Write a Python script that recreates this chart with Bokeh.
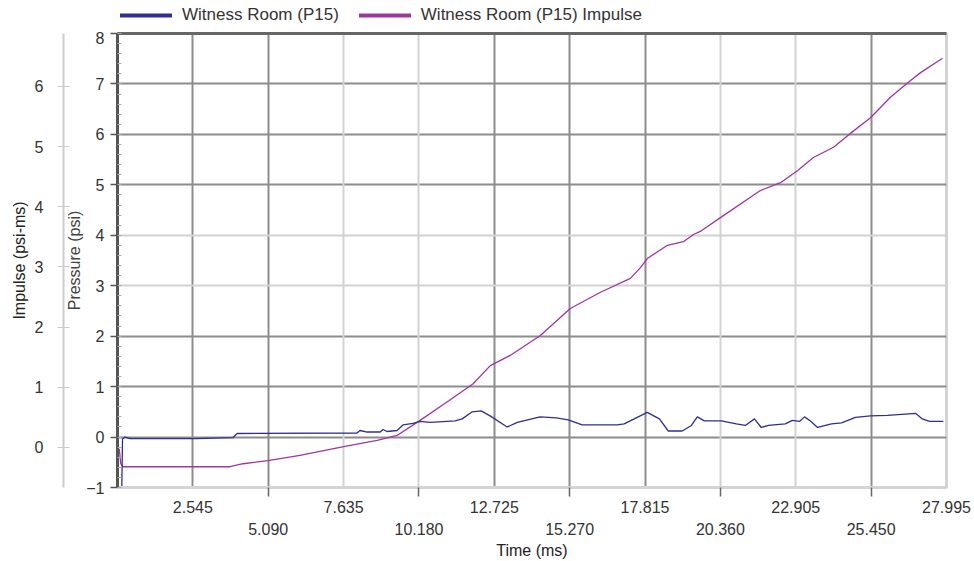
from bokeh.plotting import figure
from bokeh.layouts import column
from bokeh.models import (Range1d, LinearAxis, FixedTicker, SingleIntervalTicker,
                          NumeralTickFormatter, CustomJSTickFormatter, Legend,
                          LegendItem, Grid)
from bokeh.embed import file_html
from bokeh.resources import INLINE

FONT = "Liberation Sans"
BLUE = "#2E2E96"
PURPLE = "#9E36A0"

# ---- data (time in ms) ----
series_names = ["Witness Room (P15)", "Witness Room (P15) Impulse"]

time_pressure = [0.14, 0.17, 0.25, 0.42, 2.68, 3.90, 4.04, 8.09, 8.19, 8.43,
                 8.87, 8.97, 9.10, 9.44, 9.64, 9.98, 10.22, 10.56, 11.40, 11.64,
                 11.98, 12.28, 12.58, 13.16, 13.50, 14.27, 14.82, 15.22, 15.69, 16.88,
                 17.11, 17.45, 17.89, 18.30, 18.60, 19.07, 19.38, 19.58, 19.82, 20.39,
                 20.90, 21.20, 21.51, 21.74, 21.98, 22.55, 22.79, 23.03, 23.20, 23.40,
                 23.64, 24.11, 24.45, 24.92, 25.43, 26.00, 26.95, 27.18, 27.42, 27.89]
pressure_psi = [-1.17, -0.04, 0.00, -0.03, -0.03, -0.01, 0.07, 0.08, 0.13, 0.10,
                0.10, 0.15, 0.11, 0.13, 0.24, 0.27, 0.31, 0.29, 0.32, 0.36,
                0.50, 0.52, 0.42, 0.20, 0.29, 0.40, 0.38, 0.34, 0.24, 0.24,
                0.26, 0.36, 0.49, 0.36, 0.12, 0.12, 0.23, 0.40, 0.32, 0.32,
                0.26, 0.23, 0.36, 0.19, 0.23, 0.26, 0.33, 0.31, 0.40, 0.32,
                0.19, 0.26, 0.28, 0.39, 0.42, 0.43, 0.47, 0.36, 0.31, 0.31]

time_impulse = [0.00, 0.06, 0.11, 0.18, 3.80, 4.24, 5.08, 6.16, 7.68, 8.77,
                9.44, 10.22, 11.20, 12.01, 12.59, 13.26, 14.28, 15.29, 16.31, 17.32,
                17.66, 17.89, 18.57, 19.11, 19.45, 19.68, 20.36, 21.71, 22.39, 22.96,
                23.50, 24.18, 24.75, 25.43, 26.10, 26.78, 27.12, 27.86]
impulse_psi_ms = [-0.02, -0.03, -0.27, -0.32, -0.32, -0.27, -0.22, -0.13, 0.02, 0.12,
                  0.20, 0.45, 0.78, 1.06, 1.36, 1.53, 1.86, 2.31, 2.58, 2.81,
                  2.99, 3.14, 3.36, 3.42, 3.54, 3.59, 3.82, 4.27, 4.40, 4.60,
                  4.82, 4.99, 5.22, 5.48, 5.82, 6.10, 6.23, 6.47]

x_ticks_row1 = [2.545, 7.635, 12.725, 17.815, 22.905, 27.995]
x_ticks_row2 = [5.090, 10.180, 15.270, 20.360, 25.450]
x_grid_dark = [2.545, 5.090, 12.725, 15.270, 17.815, 25.450]
x_grid_light = [7.635, 10.180, 20.360, 22.905]
y_grid_dark = [0, 1, 2, 5, 6, 7]
y_grid_light = [3, 4]

TXT = "#333333"

# ---------------- legend strip (own small figure above the chart) ----------------
leg = figure(width=974, height=31, output_backend="svg", toolbar_location=None,
             x_axis_type=None, y_axis_type=None,
             x_range=Range1d(0, 27.995), y_range=Range1d(20, 21),
             min_border=0)
leg.outline_line_color = None
leg.background_fill_color = "white"
leg.border_fill_color = "white"
sw1 = leg.line(time_pressure, pressure_psi, line_color=BLUE, line_width=4,
               line_cap="round")
sw2 = leg.line(time_impulse, impulse_psi_ms, line_color=PURPLE, line_width=4,
               line_cap="round")
legend = Legend(items=[LegendItem(label=series_names[0], renderers=[sw1]),
                       LegendItem(label=series_names[1], renderers=[sw2])],
                orientation="horizontal", location=(3, 6),
                glyph_width=52, glyph_height=16, label_height=16,
                label_standoff=10, spacing=20, padding=0, margin=0,
                background_fill_alpha=0, border_line_alpha=0,
                label_text_font=FONT, label_text_font_size="17px",
                label_text_color=TXT)
leg.add_layout(legend)

# ---------------- main chart ----------------
p = figure(width=974, height=530, output_backend="svg", toolbar_location=None,
           x_range=Range1d(0, 27.995), y_range=Range1d(-1, 8),
           min_border_left=117, min_border_right=28, min_border_top=2,
           min_border_bottom=74)
p.extra_y_ranges = {"imp": Range1d(-0.665, 6.88)}
p.background_fill_color = "white"
p.border_fill_color = "white"
p.outline_line_color = "#d4d4d4"
p.outline_line_width = 3

# grids
DARK_GRID = "#8c8c8c"
LIGHT_GRID = "#d2d2d2"
p.xgrid.ticker = FixedTicker(ticks=x_grid_dark)
p.xgrid.grid_line_color = DARK_GRID
p.xgrid.grid_line_width = 2
p.ygrid.ticker = FixedTicker(ticks=y_grid_dark)
p.ygrid.grid_line_color = DARK_GRID
p.ygrid.grid_line_width = 2
p.add_layout(Grid(dimension=0, ticker=FixedTicker(ticks=x_grid_light),
                  grid_line_color=LIGHT_GRID, grid_line_width=2))
p.add_layout(Grid(dimension=1, ticker=FixedTicker(ticks=y_grid_light),
                  grid_line_color=LIGHT_GRID, grid_line_width=2))

# data lines
p.line(time_impulse, impulse_psi_ms, y_range_name="imp",
       line_color=PURPLE, line_width=1.3)
p.line(time_pressure, pressure_psi, line_color=BLUE, line_width=1.3)


def style_text(ax):
    ax.major_label_text_font = FONT
    ax.major_label_text_font_size = "16px"
    ax.major_label_text_color = TXT
    ax.axis_label_text_font = FONT
    ax.axis_label_text_font_size = "16px"
    ax.axis_label_text_font_style = "normal"
    ax.axis_label_text_color = "#222222"

# bottom axis A: long tick marks only
xa = p.xaxis[0]
xa.ticker = FixedTicker(ticks=x_ticks_row2)
xa.formatter = CustomJSTickFormatter(code="return ''")
xa.major_tick_out = 9
xa.major_tick_in = 0
xa.minor_tick_out = 0
xa.minor_tick_in = 0
xa.major_tick_line_color = "#666666"
xa.major_tick_line_width = 1.5
xa.axis_line_color = "#d4d4d4"
xa.axis_line_width = 3
xa.major_label_standoff = 0
xa.major_label_text_font_size = "1px"

# bottom axis B: first row of labels
xb = LinearAxis(ticker=FixedTicker(ticks=x_ticks_row1),
                formatter=NumeralTickFormatter(format="0.000"))
style_text(xb)
xb.major_tick_line_color = None
xb.major_tick_out = 0
xb.major_tick_in = 0
xb.minor_tick_line_color = None
xb.axis_line_color = None
xb.major_label_standoff = 4
p.add_layout(xb, "below")

# bottom axis C: second row of labels + title
xc = LinearAxis(ticker=FixedTicker(ticks=x_ticks_row2),
                formatter=NumeralTickFormatter(format="0.000"),
                axis_label="Time (ms)")
style_text(xc)
xc.major_tick_line_color = None
xc.major_tick_out = 0
xc.major_tick_in = 0
xc.minor_tick_line_color = None
xc.axis_line_color = None
xc.major_label_standoff = 7
xc.axis_label_standoff = 4
p.add_layout(xc, "below")

# left pressure axis
ya = p.yaxis[0]
ya.ticker = SingleIntervalTicker(interval=1, num_minor_ticks=5)
style_text(ya)
ya.axis_label = "Pressure (psi)"
ya.axis_label_text_color = "#444444"
ya.major_tick_out = 7
ya.major_tick_in = 0
ya.minor_tick_in = 4
ya.minor_tick_out = 0
ya.axis_line_color = "#555555"
ya.axis_line_width = 3
ya.major_tick_line_color = "#555555"
ya.major_tick_line_width = 1.5
ya.minor_tick_line_color = "#aaaaaa"
ya.major_label_standoff = 6
ya.axis_label_standoff = 0

# far-left impulse axis
yi = LinearAxis(y_range_name="imp",
                ticker=SingleIntervalTicker(interval=1, num_minor_ticks=0),
                axis_label="Impulse (psi-ms)")
style_text(yi)
yi.axis_line_color = "#cccccc"
yi.axis_line_width = 2
yi.major_tick_in = 6
yi.major_tick_out = 6
yi.major_tick_line_color = "#cccccc"
yi.minor_tick_line_color = None
yi.major_label_standoff = 14
yi.axis_label_standoff = 4
p.add_layout(yi, "left")

# top border (dark)
top = LinearAxis(ticker=FixedTicker(ticks=[]))
top.axis_line_color = "#666666"
top.axis_line_width = 3
top.major_tick_out = 0
top.major_tick_in = 0
top.major_tick_line_color = None
top.minor_tick_out = 0
top.minor_tick_in = 0
top.major_label_standoff = 0
p.add_layout(top, "above")

layout = column(leg, p, spacing=0)
open("out.html", "w").write(file_html(layout, INLINE, title="Witness Room (P15)"))
